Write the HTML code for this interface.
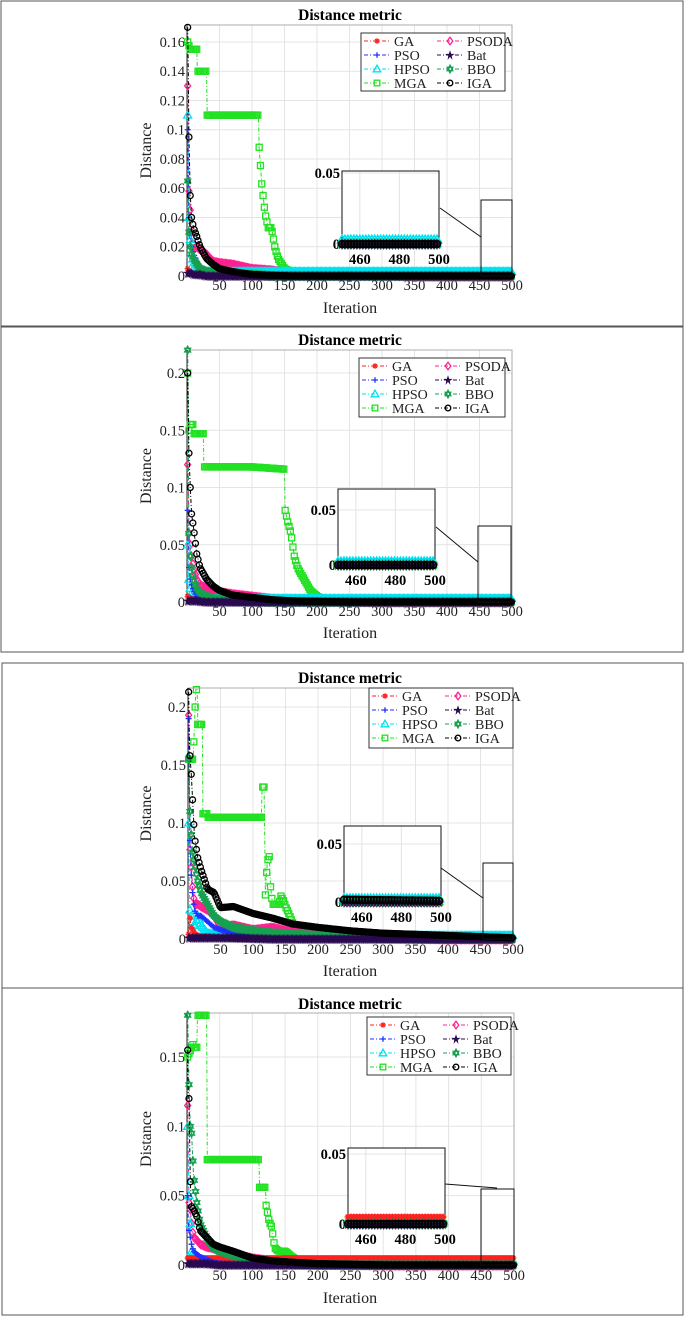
<!DOCTYPE html>
<html><head><meta charset="utf-8">
<style>
html,body{margin:0;padding:0;background:#fff;}
svg{display:block;font-family:"Liberation Serif",serif;}
</style></head>
<body>
<svg id="fig" width="685" height="1317" viewBox="0 0 685 1317" xmlns="http://www.w3.org/2000/svg"></svg>
<script>
// ---------- data ----------
const ITERS = [1,2,3,5,7,10,15,20,30,40,50,70,100,130,160,200,250,300,350,400,450,500];
const SERIES_NAMES = ['GA','PSO','HPSO','MGA','PSODA','Bat','BBO','IGA'];
const XTICKS = [50,100,150,200,250,300,350,400,450,500];
const INSET_XTICKS = [460,480,500];

// panel 1
const p1_GA   = [0.005,0.004,0.003,0.002,0.002,0.001,0.001,0.001,0.0005,0.0005,0.0003,0.0002,0,0,0,0,0,0,0,0,0,0];
const p1_PSO  = [0.1,0.06,0.04,0.03,0.02,0.015,0.01,0.006,0.004,0.003,0.002,0.001,0.0005,0,0,0,0,0,0,0,0,0];
const p1_HPSO = [0.11,0.085,0.04,0.025,0.015,0.01,0.006,0.004,0.003,0.003,0.003,0.003,0.003,0.003,0.003,0.003,0.003,0.003,0.003,0.003,0.003,0.003];
const p1_PSODA= [0.13,0.09,0.058,0.045,0.03,0.018,0.02,0.018,0.015,0.01,0.009,0.008,0.005,0.004,0.002,0.002,0.001,0.0005,-0.0005,-0.0005,-0.0005,-0.0005];
const p1_Bat  = [0.002,0.002,0.002,0.002,0.002,0.001,0.001,0.001,0,0,0,0,0,0,0,0,0,0,0,0,0,0];
const p1_BBO  = [0.065,0.05,0.03,0.02,0.015,0.012,0.008,0.005,0.003,0.002,0.002,0.001,0.001,0,0,0,0,0,0,0,0,0];
const p1_IGA  = [0.17,0.14,0.095,0.055,0.04,0.033,0.027,0.02,0.012,0.008,0.005,0.003,0.001,0.0005,0,0,0,0,0,0,0,0];
const p1_MGA_it = [1,5,15,16,30,31,110,111,115,120,125,130,135,140,150,160,175,200,500];
const p1_MGA    = [0.16,0.155,0.155,0.14,0.14,0.11,0.11,0.088,0.063,0.043,0.033,0.033,0.02,0.012,0.005,0.003,0.001,0,0];
const p1_YTICKS = [0,0.02,0.04,0.06,0.08,0.1,0.12,0.14,0.16];

// panel 2
const p2_GA   = [0.005,0.004,0.004,0.003,0.003,0.002,0.002,0.001,0.001,0.001,0.0005,0.0003,0,0,0,0,0,0,0,0,0,0];
const p2_PSO  = [0.08,0.05,0.03,0.02,0.015,0.01,0.005,0.003,0.002,0.001,0.001,0.0005,0,0,0,0,0,0,0,0,0,0];
const p2_HPSO = [0.05,0.03,0.02,0.012,0.008,0.006,0.004,0.003,0.003,0.003,0.003,0.003,0.003,0.003,0.003,0.003,0.003,0.003,0.003,0.003,0.003,0.003];
const p2_PSODA= [0.12,0.1,0.06,0.05,0.04,0.03,0.02,0.015,0.012,0.01,0.009,0.007,0.005,0.003,0.002,0.001,0,-0.0005,-0.0005,-0.0005,-0.0005,-0.0005];
const p2_Bat  = [0.001,0.001,0.001,0.001,0.001,0.001,0.001,0.0005,0,0,0,0,0,0,0,0,0,0,0,0,0,0];
const p2_BBO  = [0.22,0.15,0.06,0.04,0.03,0.02,0.012,0.008,0.005,0.003,0.002,0.001,0.0005,0,0,0,0,0,0,0,0,0];
const p2_IGA  = [0.2,0.17,0.13,0.1,0.077,0.065,0.042,0.03,0.02,0.014,0.01,0.006,0.004,0.002,0.001,0.0005,0,0,0,0,0,0];
const p2_MGA_it = [1,3,5,10,11,25,26,100,150,151,155,160,165,170,175,180,190,200,210,500];
const p2_MGA    = [0.2,0.15,0.155,0.155,0.147,0.147,0.118,0.118,0.116,0.08,0.07,0.06,0.04,0.03,0.025,0.02,0.01,0.005,0.002,0];
const p2_YTICKS = [0,0.05,0.1,0.15,0.2];

// panel 3
const p3_GA   = [0.004,0.018,0.018,0.01,0.008,0.005,0.003,0.002,0.002,0.001,0.001,0,0,0,0,0,0,0,0,0,0,0];
const p3_PSO  = [0.19,0.13,0.085,0.055,0.04,0.025,0.02,0.02,0.015,0.01,0.008,0.005,0.003,0.002,0.001,0.001,0.0005,0,0,0,0,0];
const p3_HPSO = [0.1,0.05,0.025,0.02,0.015,0.01,0.02,0.012,0.005,0.004,0.003,0.003,0.003,0.003,0.003,0.003,0.003,0.003,0.003,0.003,0.003,0.003];
const p3_PSODA= [0.193,0.16,0.077,0.062,0.045,0.03,0.03,0.028,0.025,0.02,0.01,0.012,0.008,0.01,0.006,0.004,0.002,0.001,0,-0.0005,-0.0005,-0.0005];
const p3_Bat  = [0.001,0.001,0.001,0.001,0.001,0.001,0.001,0.001,0.001,0.001,0.001,0.001,0.0005,0,0,0,0,0,0,0,0,0];
const p3_BBO  = [0.155,0.12,0.11,0.09,0.075,0.065,0.05,0.04,0.03,0.02,0.015,0.01,0.007,0.005,0.004,0.003,0.002,0.001,0.0008,0.0005,0.0003,0.0002];
const p3_IGA  = [0.213,0.178,0.158,0.142,0.12,0.088,0.07,0.06,0.043,0.04,0.027,0.028,0.022,0.018,0.013,0.01,0.007,0.005,0.004,0.003,0.002,0.001];
const p3_MGA_it = [1,8,12,14,15,22,23,30,31,113,114,117,118,119,122,125,127,130,140,143,147,150,155,160,170,180,500];
const p3_MGA    = [0.155,0.155,0.215,0.215,0.185,0.185,0.108,0.108,0.105,0.105,0.131,0.131,0.09,0.038,0.067,0.071,0.045,0.03,0.03,0.037,0.033,0.028,0.022,0.015,0.005,0.001,0];
const p3_YTICKS = [0,0.05,0.1,0.15,0.2];

// panel 4
const p4_GA   = [0.005,0.005,0.005,0.005,0.005,0.005,0.005,0.005,0.005,0.005,0.005,0.005,0.005,0.005,0.005,0.005,0.005,0.005,0.005,0.005,0.005,0.005];
const p4_PSO  = [0.05,0.03,0.025,0.02,0.015,0.01,0.008,0.006,0.004,0.002,0.001,0.0005,0,0,0,0,0,0,0,0,0,0];
const p4_HPSO = [0.1,0.07,0.05,0.03,0.01,0.008,0.005,0.003,0.002,0.002,0.002,0.002,0.002,0.002,0.002,0.002,0.002,0.002,0.002,0.002,0.002,0.002];
const p4_PSODA= [0.115,0.08,0.045,0.04,0.03,0.02,0.018,0.015,0.013,0.012,0.01,0.008,0.005,0.003,0.001,0,0,-0.0005,-0.0005,-0.0005,-0.0005,-0.0005];
const p4_Bat  = [0.001,0.001,0.001,0.001,0.001,0.001,0.001,0.001,0.001,0.0005,0,0,0,0,0,0,0,0,0,0,0,0];
const p4_BBO  = [0.18,0.16,0.13,0.1,0.095,0.065,0.045,0.03,0.02,0.012,0.01,0.007,0.004,0.002,0.001,0.0005,0,0,0,0,0,0];
const p4_IGA  = [0.155,0.12,0.12,0.06,0.042,0.04,0.035,0.025,0.02,0.015,0.013,0.01,0.005,0.003,0.002,0.001,0.0005,0,0,0,0,0];
const p4_MGA_it = [1,10,11,15,16,30,31,110,111,120,121,125,127,130,132,135,140,150,160,170,180,500];
const p4_MGA    = [0.15,0.16,0.157,0.157,0.18,0.18,0.076,0.076,0.056,0.056,0.043,0.033,0.03,0.027,0.018,0.012,0.01,0.01,0.006,0.003,0.001,0];
const p4_YTICKS = [0,0.05,0.1,0.15];

// ---------- layout (not data) ----------
const PANELS = [
 {box:[1,1,682,325], x0:187,x1:512,yTop:25,yBot:276,ymax:0.1716,titleY:14,xtY:289,xlY:307,
  leg:[361,33,144,58], inset:[342,171,97,76,244,173], rect:[481,200,31,76], conn:[440,208,481,237],
  d:{GA:p1_GA,PSO:p1_PSO,HPSO:p1_HPSO,PSODA:p1_PSODA,Bat:p1_Bat,BBO:p1_BBO,IGA:p1_IGA}, mgaIt:p1_MGA_it, mga:p1_MGA, yt:p1_YTICKS},
 {box:[1,327,682,325], x0:187,x1:512,yTop:350,yBot:602,ymax:0.2201,titleY:339,xtY:615,xlY:632,
  leg:[359,358,146,59], inset:[338,489,97,76,565,510], rect:[478,526,33,76], conn:[436,527,478,562],
  d:{GA:p2_GA,PSO:p2_PSO,HPSO:p2_HPSO,PSODA:p2_PSODA,Bat:p2_Bat,BBO:p2_BBO,IGA:p2_IGA}, mgaIt:p2_MGA_it, mga:p2_MGA, yt:p2_YTICKS},
 {box:[2,663,681,325], x0:188,x1:513,yTop:688,yBot:939,ymax:0.2164,titleY:677,xtY:953,xlY:970,
  leg:[369,688,144,60], inset:[344,826,97,76,902,844], rect:[483,863,30,76], conn:[441,868,483,898],
  d:{GA:p3_GA,PSO:p3_PSO,HPSO:p3_HPSO,PSODA:p3_PSODA,Bat:p3_Bat,BBO:p3_BBO,IGA:p3_IGA}, mgaIt:p3_MGA_it, mga:p3_MGA, yt:p3_YTICKS},
 {box:[2,988,681,327], x0:187,x1:514,yTop:1013,yBot:1265,ymax:0.1817,titleY:1003,xtY:1279,xlY:1297,
  leg:[367,1017,144,58], inset:[348,1148,97,76,1224,1154], rect:[481,1189,33,76], conn:[445,1184,497,1188],
  d:{GA:p4_GA,PSO:p4_PSO,HPSO:p4_HPSO,PSODA:p4_PSODA,Bat:p4_Bat,BBO:p4_BBO,IGA:p4_IGA}, mgaIt:p4_MGA_it, mga:p4_MGA, yt:p4_YTICKS}
];
const STYLE = {
 GA:{c:'#ff2020',m:'ast'}, PSO:{c:'#2030ff',m:'plus'}, HPSO:{c:'#00e0f0',m:'tri'}, MGA:{c:'#22e022',m:'sq'},
 PSODA:{c:'#ff2090',m:'dia'}, Bat:{c:'#2a0a50',m:'star'}, BBO:{c:'#16a050',m:'hex'}, IGA:{c:'#000000',m:'circ'}
};
const DRAW_ORDER = ['MGA','PSODA','HPSO','GA','PSO','BBO','Bat','IGA'];

const NS='http://www.w3.org/2000/svg';
const svg=document.getElementById('fig');
function mk(tag,attrs,parent){const e=document.createElementNS(NS,tag);for(const k in attrs)e.setAttribute(k,attrs[k]);(parent||svg).appendChild(e);return e;}
function txt(s,attrs,parent){const e=mk('text',attrs,parent);e.textContent=s;return e;}
function marker(g,type,x,y,c,r,sw){
  sw=sw||1.3;
  if(type==='circ'){mk('circle',{cx:x,cy:y,r:r,fill:'none',stroke:c,'stroke-width':sw},g);}
  else if(type==='sq'){mk('rect',{x:x-r,y:y-r,width:2*r,height:2*r,fill:'none',stroke:c,'stroke-width':sw},g);}
  else if(type==='dia'){mk('path',{d:`M${x} ${y-r-1}L${x+r} ${y}L${x} ${y+r+1}L${x-r} ${y}Z`,fill:'none',stroke:c,'stroke-width':sw},g);}
  else if(type==='tri'){mk('path',{d:`M${x} ${y-r-1}L${x+r+1} ${y+r}L${x-r-1} ${y+r}Z`,fill:'none',stroke:c,'stroke-width':sw},g);}
  else if(type==='plus'){mk('path',{d:`M${x-r} ${y}H${x+r}M${x} ${y-r}V${y+r}`,stroke:c,'stroke-width':sw},g);}
  else if(type==='ast'){mk('path',{d:`M${x-r} ${y}H${x+r}M${x} ${y-r}V${y+r}M${x-r*.7} ${y-r*.7}L${x+r*.7} ${y+r*.7}M${x-r*.7} ${y+r*.7}L${x+r*.7} ${y-r*.7}`,stroke:c,'stroke-width':sw},g);}
  else if(type==='star'){mk('path',{d:`M${x} ${y-r-1}L${x+r*.35} ${y-r*.3}L${x+r+1} ${y-r*.3}L${x+r*.5} ${y+r*.2}L${x+r*.7} ${y+r+1}L${x} ${y+r*.5}L${x-r*.7} ${y+r+1}L${x-r*.5} ${y+r*.2}L${x-r-1} ${y-r*.3}L${x-r*.35} ${y-r*.3}Z`,fill:c,stroke:c,'stroke-width':0.6},g);}
  else {mk('path',{d:`M${x} ${y-r-1}L${x+r} ${y+r*.6}L${x-r} ${y+r*.6}ZM${x} ${y+r+1}L${x+r} ${y-r*.6}L${x-r} ${y-r*.6}Z`,fill:'none',stroke:c,'stroke-width':sw},g);}
}
function valAt(its,vals,t){
  if(t<=its[0])return vals[0];
  for(let i=1;i<its.length;i++){if(t<=its[i]){const f=(t-its[i-1])/(its[i]-its[i-1]);return vals[i-1]+f*(vals[i]-vals[i-1]);}}
  return vals[vals.length-1];
}
function fmt(v){return v===0?'0':String(+v.toFixed(2));}

PANELS.forEach((P,pi)=>{
  const G=mk('g',{});
  
  
  const bx=mk('rect',{x:P.box[0],y:P.box[1],width:P.box[2],height:P.box[3],fill:'#fff',stroke:'#555','stroke-width':1},G);
  
  
  const X=it=>P.x0+(it/500)*(P.x1-P.x0);
  const Y=v=>P.yBot-(v/P.ymax)*(P.yBot-P.yTop);
  const grid=mk('g',{stroke:'#e4e4e4','stroke-width':1},G);
  
  
  XTICKS.forEach(t=>mk('line',{x1:X(t),x2:X(t),y1:P.yTop,y2:P.yBot},grid));
  P.yt.forEach(t=>{if(t>0)mk('line',{x1:P.x0,x2:P.x1,y1:Y(t),y2:Y(t)},grid);});
  const ax=mk('rect',{x:P.x0,y:P.yTop,width:P.x1-P.x0,height:P.yBot-P.yTop,fill:'none',stroke:'#999','stroke-width':0.8},G);
  
  
  mk('line',{x1:P.x0,x2:P.x1,y1:P.yBot,y2:P.yBot,stroke:'#222','stroke-width':1},G);
  mk('line',{x1:P.x0,x2:P.x0,y1:P.yTop,y2:P.yBot,stroke:'#222','stroke-width':1},G);
  XTICKS.forEach(t=>{const e=txt(String(t),{x:X(t),y:P.xtY+1,'font-size':14.5,'text-anchor':'middle',fill:'#222'},G);
    });
  P.yt.forEach(t=>{const e=txt(fmt(t),{x:P.x0-2,y:Y(t)+5,'font-size':14.5,'text-anchor':'end',fill:'#222'},G);
    });
  const ti=txt('Distance metric',{x:350,y:P.titleY+6,'font-size':15.5,'font-weight':'bold','text-anchor':'middle'},G);
  
  const xl=txt('Iteration',{x:350,y:P.xlY+6,'font-size':16,'text-anchor':'middle',fill:'#222'},G);
  
  const yc=(P.yTop+P.yBot)/2;
  const yl=txt('Distance',{x:0,y:0,'font-size':16,'text-anchor':'middle',fill:'#222',transform:`translate(151,${yc}) rotate(-90)`},G);
  
  DRAW_ORDER.forEach(name=>{
    const its = name==='MGA'?P.mgaIt:ITERS;
    const vals= name==='MGA'?P.mga:P.d[name];
    const st=STYLE[name];
    const sg=mk('g',{},G);
    
    
    const pts=its.map((t,i)=>X(t).toFixed(1)+','+Y(vals[i]).toFixed(1)).join(' ');
    mk('polyline',{points:pts,fill:'none',stroke:st.c,'stroke-width':1,'stroke-dasharray':'4 2 1 2'},sg);
    const step = name==='MGA'?2:2;
    for(let t=1;t<=500;t+=step){
      const v=valAt(its,vals,t);
      marker(sg,st.m,X(t),Y(v),st.c,3);
    }
  });
  const zr=mk('rect',{x:P.rect[0],y:P.rect[1],width:P.rect[2],height:P.rect[3],fill:'none',stroke:'#111','stroke-width':1},G);
  
  const cn=mk('line',{x1:P.conn[0],y1:P.conn[1],x2:P.conn[2],y2:P.conn[3],stroke:'#111','stroke-width':1},G);
  
  const [ix,iy,iw,ih,iy0,iy05]=P.inset;
  const IG=mk('g',{},G);
  
  
  mk('rect',{x:ix,y:iy,width:iw,height:ih,fill:'#fff',stroke:'#111','stroke-width':1},IG);
  const IX=t=>ix+(t-451)/(500-451)*iw;
  const IY=v=>iy0-(v/0.05)*(iy0-iy05);
  INSET_XTICKS.forEach(t=>{mk('line',{x1:IX(t),x2:IX(t),y1:iy,y2:iy+ih,stroke:'#e4e4e4'},IG);
    const e=txt(String(t),{x:IX(t),y:iy0+20,'font-size':14.5,'font-weight':'bold','text-anchor':'middle'},IG);
    });
  mk('line',{x1:ix,x2:ix+iw,y1:iy05,y2:iy05,stroke:'#e4e4e4'},IG);
  const a=txt('0.05',{x:ix-2,y:iy05+5,'font-size':14.5,'font-weight':'bold','text-anchor':'end'},IG);
  
  const b=txt('0',{x:ix-2,y:iy0+5,'font-size':14.5,'font-weight':'bold','text-anchor':'end'},IG);
  
  mk('rect',{x:ix,y:iy,width:iw,height:ih,fill:'none',stroke:'#111','stroke-width':1},IG);
  DRAW_ORDER.forEach(name=>{
    const its = name==='MGA'?P.mgaIt:ITERS;
    const vals= name==='MGA'?P.mga:P.d[name];
    const st=STYLE[name];
    const sg=mk('g',{},IG);
    
    
    for(let t=451;t<=500;t+=1.5){
      const v=valAt(its,vals,t);
      marker(sg,st.m,IX(t),Math.min(IY(Math.max(v,0)),iy0),st.c,3.4,1.6);
    }
  });
  const [lx,ly,lw,lh]=P.leg;
  const LG=mk('g',{},G);
  
  
  mk('rect',{x:lx,y:ly,width:lw,height:lh,fill:'#fff',stroke:'#333','stroke-width':1},LG);
  SERIES_NAMES.forEach((name,i)=>{
    const col=i<4?0:1,row=i%4;
    const cx=lx+(col?76:3),cy=ly+8+row*14;
    const st=STYLE[name];
    const eg=mk('g',{},LG);
    
    
    mk('line',{x1:cx,x2:cx+26,y1:cy,y2:cy,stroke:st.c,'stroke-width':1,'stroke-dasharray':'4 2 1 2'},eg);
    marker(eg,st.m,cx+13,cy,st.c,2.8);
    txt(name,{x:cx+30,y:cy+5,'font-size':14,fill:'#222'},eg);
  });
});
</script>
</body></html>
